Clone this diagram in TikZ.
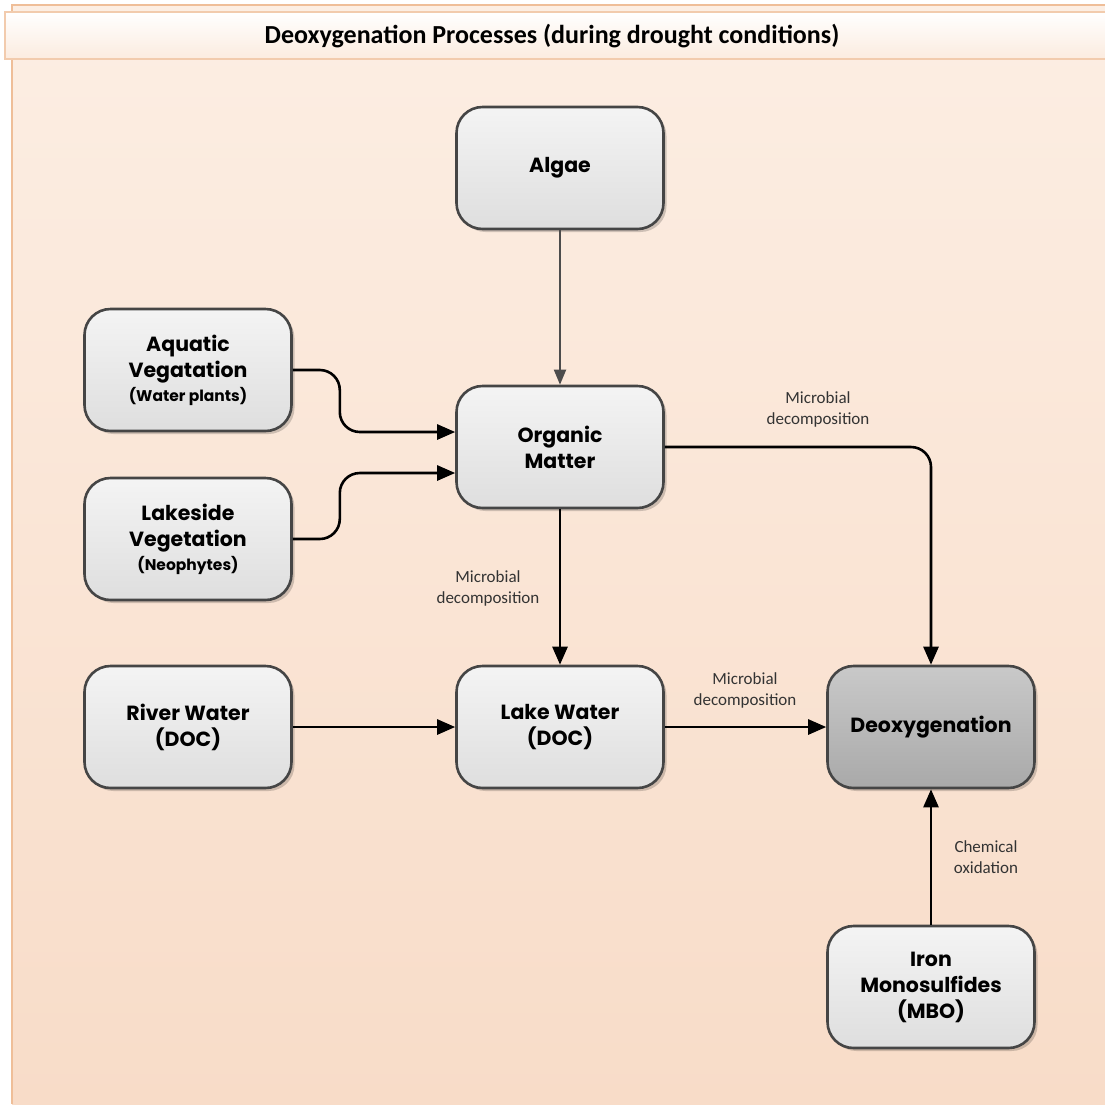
\documentclass[tikz,border=0pt]{standalone}
\usepackage{fontspec}
\setmainfont{Carlito}
\newfontfamily\boxfont{Poppins}
\usetikzlibrary{arrows.meta,calc,shadows}

\definecolor{panelTop}{HTML}{FCEEE3}
\definecolor{panelBot}{HTML}{F8DCC8}
\definecolor{panelEdge}{HTML}{EFBE98}
\definecolor{boxTop}{HTML}{F4F4F4}
\definecolor{boxBot}{HTML}{DEDEDE}
\definecolor{darkTop}{HTML}{C9C9C9}
\definecolor{darkBot}{HTML}{A9A9A9}
\definecolor{boxEdge}{HTML}{454545}

\tikzset{
  procbox/.style={
    draw=boxEdge, line width=2.6pt, rounded corners=26pt,
    minimum width=207pt, minimum height=122pt,
    top color=boxTop, bottom color=boxBot,
    align=center, text=black,
    font=\boxfont\bfseries\fontsize{20.5}{26}\selectfont,
    drop shadow={shadow xshift=3pt, shadow yshift=-3pt, opacity=0.18, fill=black}
  },
  darkbox/.style={procbox, top color=darkTop, bottom color=darkBot},
  flow/.style={draw=black, line width=2.6pt, rounded corners=20pt,
    -{Triangle[length=18pt,width=15pt]}},
  softflow/.style={draw=black!70, line width=1.9pt,
    -{Triangle[length=15pt,width=12pt]}},
  note/.style={font=\fontsize{17}{21}\selectfont, text=black!80, align=center}
}
\newcommand{\subline}[1]{{\boxfont\bfseries\fontsize{15.5}{18}\selectfont #1}}

\begin{document}
\begin{tikzpicture}[x=1pt,y=-1pt]
  \useasboundingbox (0,0) rectangle (1105,1104);

  % outer panel and title strip
  \shade[top color=panelTop, bottom color=panelBot] (12,5) rectangle (1105,1104);
  \draw[panelEdge, line width=1.6pt] (12,1104) -- (12,5) -- (1105,5);
  \shade[top color=white, bottom color=panelTop!85!panelBot] (5,12) rectangle (1105,59);
  \draw[panelEdge!80, line width=1.2pt] (1105,12) -- (5,12) -- (5,59) -- (1105,59);
  \node[font=\bfseries\fontsize{26}{30}\selectfont] (title) at (552,36)
    {Deoxygenation Processes (during drought conditions)};

  % process boxes
  \node[procbox] (algae) at (560,168) {Algae};
  \node[procbox] (aqua)  at (188,370) {Aquatic\\Vegatation\\[-2pt]\subline{(Water plants)}};
  \node[procbox] (org)   at (560,447) {Organic\\Matter};
  \node[procbox] (lake)  at (188,539) {Lakeside\\Vegetation\\[-2pt]\subline{(Neophytes)}};
  \node[procbox] (river) at (188,727) {River Water\\(DOC)};
  \node[procbox] (lakew) at (560,727) {Lake Water\\(DOC)};
  \node[darkbox] (deox)  at (931,727) {Deoxygenation};
  \node[procbox] (iron)  at (931,987) {Iron\\Monosulfides\\(MBO)};

  % connectors
  \draw[softflow] (algae) -- (org);
  \draw[flow] (aqua.east) -- ($(aqua.east)+(47,0)$) |- ([yshift=15pt]org.west);
  \draw[flow] (lake.east) -- ($(lake.east)+(47,0)$) |- ([yshift=-26pt]org.west);
  \draw[flow] (org) -- (lakew);
  \draw[flow] (org.east) -| (deox.north);
  \draw[flow] (river) -- (lakew);
  \draw[flow] (lakew) -- (deox);
  \draw[flow] (iron) -- (deox);

  % connector labels
  \node[note] (l1) at (818,409) {Microbial\\decomposition};
  \node[note] (l2) at (488,588) {Microbial\\decomposition};
  \node[note] (l3) at (745,690) {Microbial\\decomposition};
  \node[note] (l4) at (986,857) {Chemical\\oxidation};
\end{tikzpicture}
\end{document}
